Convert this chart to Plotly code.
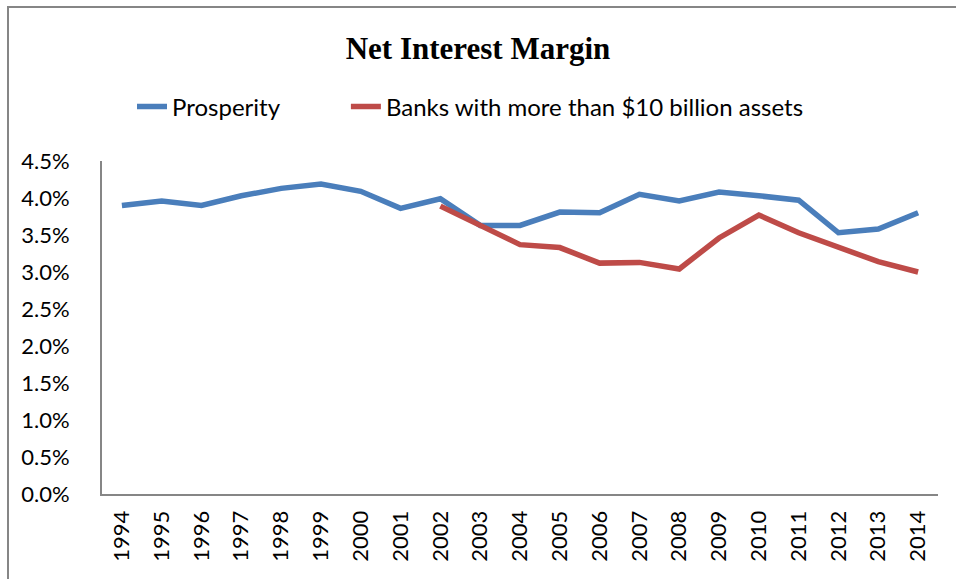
import plotly.graph_objects as go

years = [str(y) for y in range(1994, 2015)]
prosperity = [3.90, 3.96, 3.90, 4.03, 4.13, 4.19, 4.09, 3.86, 3.99, 3.63, 3.63,
              3.81, 3.80, 4.05, 3.96, 4.08, 4.03, 3.97, 3.53, 3.58, 3.80]
banks_years = [str(y) for y in range(2002, 2015)]
banks = [3.89, 3.63, 3.37, 3.33, 3.12, 3.13, 3.04, 3.46, 3.77, 3.53, 3.34, 3.14, 3.00]
y_ticks = [0.0, 0.5, 1.0, 1.5, 2.0, 2.5, 3.0, 3.5, 4.0, 4.5]

W, H = 956, 579
ml, mr, mt, mb = 102, 18, 161, 85
PW, PH = W - ml - mr, H - mt - mb
PAD = "\u00a0" * 10

fig = go.Figure()
fig.add_trace(go.Scatter(x=years, y=prosperity, mode="lines", name="Prosperity" + PAD,
                         line=dict(color="#4A7EBB", width=5.5)))
fig.add_trace(go.Scatter(x=banks_years, y=banks, mode="lines",
                         name="Banks with more than $10 billion assets",
                         line=dict(color="#BE4B48", width=5.5)))

fig.update_layout(
    width=W, height=H,
    margin=dict(l=ml, r=mr, t=mt, b=mb, pad=0),
    paper_bgcolor="white", plot_bgcolor="white",
    font=dict(family="Lato", size=22, color="black"),
    title=dict(text="<b>Net Interest Margin</b>", x=0.5, xanchor="center",
               y=1 - 48 / H, yanchor="middle",
               font=dict(family="Liberation Serif", size=31, color="black")),
    legend=dict(orientation="h", x=(132 - ml) / PW, xanchor="left", y=1 - 107 / H,
                yanchor="middle", yref="container", font=dict(family="Lato", size=24),
                bgcolor="rgba(0,0,0,0)"),
    showlegend=True,
    xaxis=dict(type="category", categoryorder="array", categoryarray=years,
               range=[-0.5, len(years) - 0.5], tickangle=-90, showgrid=False,
               showline=True, linecolor="#868686", linewidth=2, ticks="",
               tickfont=dict(family="Lato", size=22), zeroline=False,
               ticklabelstandoff=6),
    yaxis=dict(range=[0, 4.5], tickvals=y_ticks,
               ticktext=[f"{v:.1f}%" for v in y_ticks], showgrid=False,
               showline=True, linecolor="#868686", linewidth=2, ticks="",
               tickfont=dict(family="Lato", size=22), zeroline=False,
               ticklabelstandoff=26),
    shapes=[dict(type="rect", xref="paper", yref="paper",
                 x0=(8 - ml) / PW, x1=(W + 10 - ml) / PW,
                 y0=(mb - H - 10) / PH, y1=1 + (mt - 7) / PH,
                 line=dict(color="#868686", width=2), fillcolor="rgba(0,0,0,0)",
                 layer="below")],
)
fig.write_html("out.html")
